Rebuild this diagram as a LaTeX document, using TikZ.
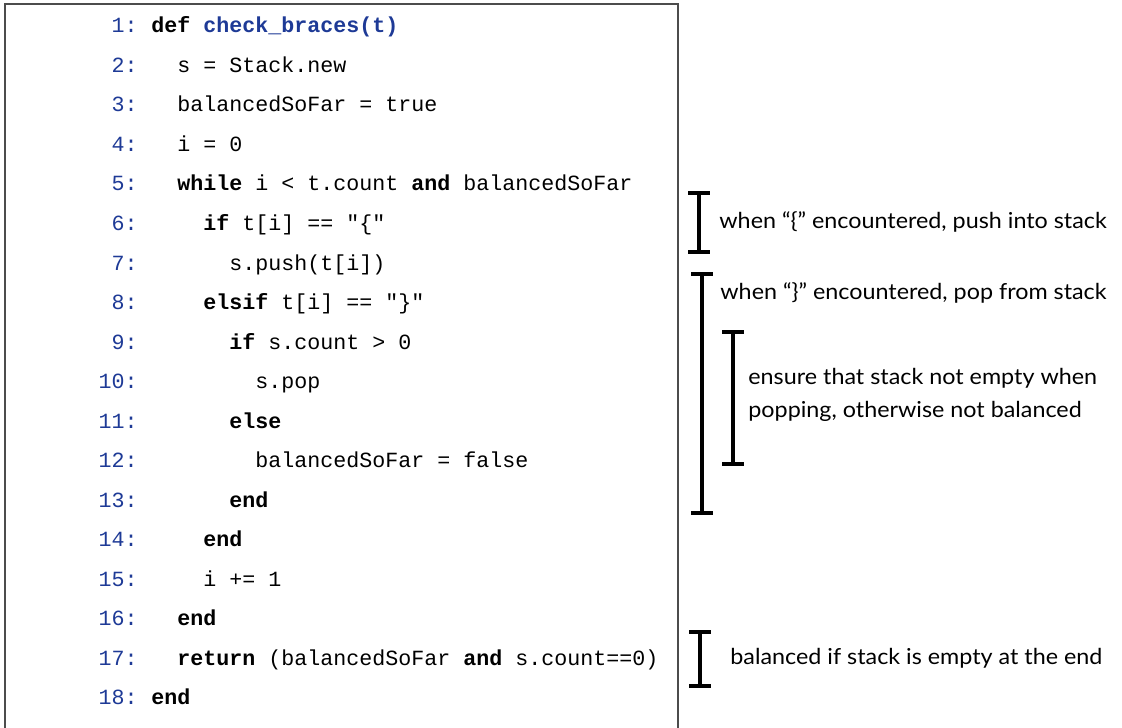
\documentclass[tikz,border=0pt]{standalone}
\usepackage{fontspec}
\setmainfont{Lato}[FakeStretch=1.06]
\setmonofont{Liberation Mono}
\definecolor{numblue}{RGB}{30,58,150}
\begin{document}
\begin{tikzpicture}[x=0.5pt,y=-0.5pt,
  num/.style={anchor=base east,inner sep=0pt,font=\fontsize{10.83pt}{12pt}\ttfamily,text=numblue},
  code/.style={anchor=base west,inner sep=0pt,font=\fontsize{10.83pt}{12pt}\ttfamily},
  note/.style={anchor=west,inner sep=0pt,font=\fontsize{11pt}{16.9pt}\selectfont,align=left},
  ibar/.style={line width=2pt},
  codeframe/.style={draw=black!70,line width=1pt}]
\useasboundingbox (0,0) rectangle (1122,727);
\draw[codeframe] (5,740) -- (5,4) -- (678,4) -- (678,740);
% line numbers
\node[num] (n1) at (138,33) {1:};
\node[num] (n2) at (138,72.5) {2:};
\node[num] (n3) at (138,112) {3:};
\node[num] (n4) at (138,151.5) {4:};
\node[num] (n5) at (138,191) {5:};
\node[num] (n6) at (138,230.5) {6:};
\node[num] (n7) at (138,270) {7:};
\node[num] (n8) at (138,309.5) {8:};
\node[num] (n9) at (138,349) {9:};
\node[num] (n10) at (138,388.5) {10:};
\node[num] (n11) at (138,428) {11:};
\node[num] (n12) at (138,467.5) {12:};
\node[num] (n13) at (138,507) {13:};
\node[num] (n14) at (138,546.5) {14:};
\node[num] (n15) at (138,586) {15:};
\node[num] (n16) at (138,625.5) {16:};
\node[num] (n17) at (138,665) {17:};
\node[num] (n18) at (138,704.5) {18:};
% code
\node[code] (c1) at (151,33) {\textbf{def} \textbf{\textcolor{numblue}{check\_braces(t)}}};
\node[code] (c2) at (177,72.5) {s = Stack.new};
\node[code] (c3) at (177,112) {balancedSoFar = true};
\node[code] (c4) at (177,151.5) {i = 0};
\node[code] (c5) at (177,191) {\textbf{while} i < t.count \textbf{and} balancedSoFar};
\node[code] (c6) at (203,230.5) {\textbf{if} t[i] == "\{"};
\node[code] (c7) at (229,270) {s.push(t[i])};
\node[code] (c8) at (203,309.5) {\textbf{elsif} t[i] == "\}"};
\node[code] (c9) at (229,349) {\textbf{if} s.count > 0};
\node[code] (c10) at (255,388.5) {s.pop};
\node[code] (c11) at (229,428) {\textbf{else}};
\node[code] (c12) at (255,467.5) {balancedSoFar = false};
\node[code] (c13) at (229,507) {\textbf{end}};
\node[code] (c14) at (203,546.5) {\textbf{end}};
\node[code] (c15) at (203,586) {i += 1};
\node[code] (c16) at (177,625.5) {\textbf{end}};
\node[code] (c17) at (177,665) {\textbf{return} (balancedSoFar \textbf{and} s.count==0)};
\node[code] (c18) at (151,704.5) {\textbf{end}};
% I-bars
\coordinate (b1t) at (699,193); \coordinate (b1b) at (699,252);
\draw[ibar] (b1t) -- (b1b) ([xshift=-11*0.5pt]b1t) -- ([xshift=11*0.5pt]b1t) ([xshift=-11*0.5pt]b1b) -- ([xshift=11*0.5pt]b1b);
\coordinate (b2t) at (702,274); \coordinate (b2b) at (702,513);
\draw[ibar] (b2t) -- (b2b) ([xshift=-11*0.5pt]b2t) -- ([xshift=11*0.5pt]b2t) ([xshift=-11*0.5pt]b2b) -- ([xshift=11*0.5pt]b2b);
\coordinate (b3t) at (733,332); \coordinate (b3b) at (733,464);
\draw[ibar] (b3t) -- (b3b) ([xshift=-11*0.5pt]b3t) -- ([xshift=11*0.5pt]b3t) ([xshift=-11*0.5pt]b3b) -- ([xshift=11*0.5pt]b3b);
\coordinate (b4t) at (700,632); \coordinate (b4b) at (700,686);
\draw[ibar] (b4t) -- (b4b) ([xshift=-11*0.5pt]b4t) -- ([xshift=11*0.5pt]b4t) ([xshift=-11*0.5pt]b4b) -- ([xshift=11*0.5pt]b4b);
% notes
\node[note] (t1) at (719,222) {when “\{” encountered, push into stack};
\node[note] (t2) at (720,293) {when “\}” encountered, pop from stack};
\node[note] (t3) at (748,395) {ensure that stack not empty when\\popping, otherwise not balanced};
\node[note] (t4) at (730,658) {balanced if stack is empty at the end};
\end{tikzpicture}
\end{document}
